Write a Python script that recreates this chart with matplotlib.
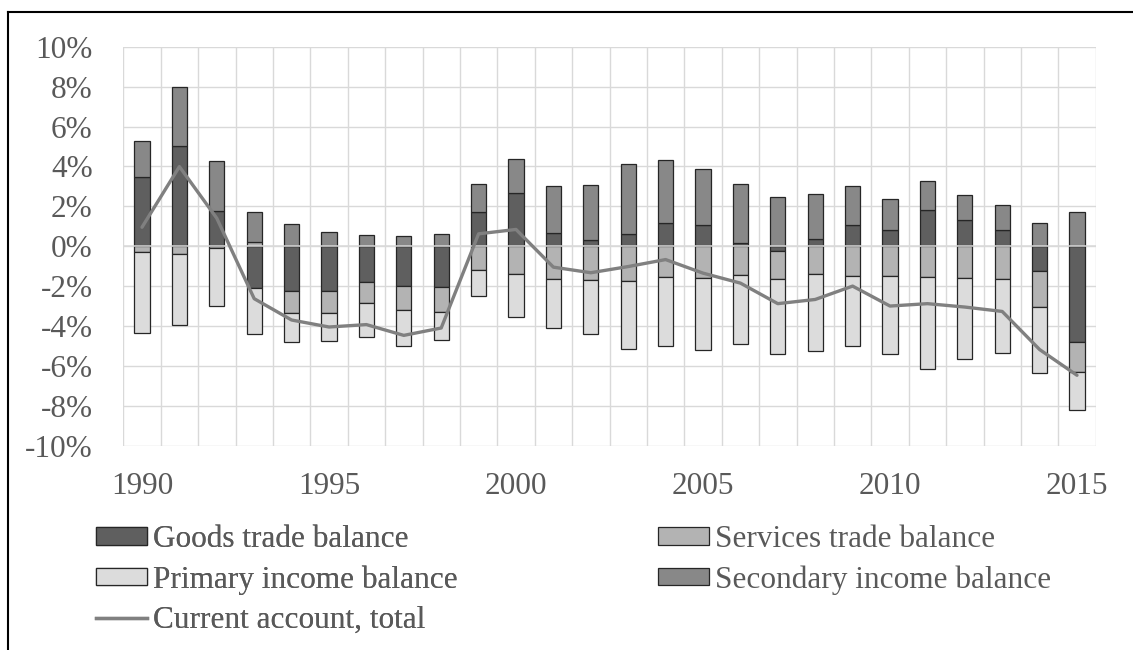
import numpy as np
import matplotlib
matplotlib.use("Agg")
import matplotlib.pyplot as plt
from matplotlib.patches import Patch
from matplotlib.lines import Line2D

# Current account components, % of GDP
years = list(range(1990, 2016))
goods = [3.45, 5.04, 1.75, -2.10, -2.25, -2.27, -1.80, -2.02, -2.05, 1.72,
         2.67, 0.64, 0.33, 0.62, 1.15, 1.07, 0.18, -0.25, 0.35, 1.08,
         0.80, 1.82, 1.32, 0.82, -1.25, -4.78]
services = [-0.27, -0.38, -0.08, 0.20, -1.08, -1.08, -1.03, -1.20, -1.25, -1.18,
            -1.40, -1.62, -1.70, -1.72, -1.55, -1.58, -1.42, -1.38, -1.37, -1.47,
            -1.50, -1.55, -1.58, -1.63, -1.82, -1.55]
primary = [-4.08, -3.59, -2.92, -2.28, -1.49, -1.42, -1.73, -1.80, -1.42, -1.30,
           -2.15, -2.48, -2.68, -3.41, -3.45, -3.60, -3.46, -3.75, -3.90, -3.55,
           -3.88, -4.63, -4.05, -3.72, -3.28, -1.89]
secondary = [1.84, 2.95, 2.53, 1.49, 1.09, 0.72, 0.58, 0.52, 0.62, 1.40,
             1.70, 2.39, 2.74, 3.50, 3.17, 2.80, 2.94, 2.48, 2.27, 1.94,
             1.55, 1.43, 1.25, 1.23, 1.17, 1.73]
total = [0.95, 3.99, 1.40, -2.63, -3.70, -4.05, -3.93, -4.47, -4.10, 0.62,
         0.84, -1.05, -1.33, -1.02, -0.67, -1.35, -1.85, -2.88, -2.67, -2.00,
         -3.00, -2.88, -3.05, -3.27, -5.18, -6.47]

series_names = ["Goods trade balance", "Services trade balance",
                "Primary income balance", "Secondary income balance"]
series_colors = ["#5f5f5f", "#b3b3b3", "#dcdcdc", "#888888"]
line_name = "Current account, total"
line_color = "#808080"
text_color = "#595959"
grid_color = "#d9d9d9"

plt.rcParams["font.family"] = ["Liberation Serif", "DejaVu Serif"]
FS = 22.5

fig = plt.figure(figsize=(11.33, 6.5), dpi=100)
ax = fig.add_axes([123.3 / 1133, 1 - 445.7 / 650, (1095.7 - 123.3) / 1133, (445.7 - 46.7) / 650])

x = np.arange(len(years))
pos_base = np.zeros(len(years))
neg_base = np.zeros(len(years))
bar_w = 0.41
handles = {}
for name, vals, col in zip(series_names, [goods, services, primary, secondary], series_colors):
    v = np.asarray(vals, dtype=float)
    base = np.where(v >= 0, pos_base, neg_base)
    ax.bar(x, v, bottom=base, width=bar_w, color=col, edgecolor="#262626",
           linewidth=0.9, zorder=3)
    pos_base = pos_base + np.where(v >= 0, v, 0)
    neg_base = neg_base + np.where(v < 0, v, 0)
    handles[name] = Patch(facecolor=col, edgecolor="#262626", linewidth=0.9)

ax.axhline(0, color=grid_color, lw=1.1, zorder=4)
ax.plot(x, total, color=line_color, lw=2.4, zorder=5, solid_capstyle="round")
handles[line_name] = Line2D([0], [0], color=line_color, lw=2.4)

ax.set_xlim(-0.5, len(years) - 0.5)
ax.set_ylim(-10, 10)
ax.set_yticks(np.arange(-10, 11, 2))
ax.set_yticklabels([f"{t}%" for t in range(-10, 11, 2)])
ax.set_xticks(x[::5])
ax.set_xticklabels([str(y) for y in years[::5]])
ax.set_xticks(np.arange(-0.5, len(years), 1.0), minor=True)
ax.grid(True, axis="y", which="major", color=grid_color, lw=1.0, zorder=0)
ax.grid(True, axis="x", which="minor", color=grid_color, lw=1.0, zorder=0)
ax.grid(False, axis="x", which="major")
ax.tick_params(axis="both", which="both", length=0, labelsize=FS, colors=text_color)
ax.tick_params(axis="y", pad=22)
ax.tick_params(axis="x", pad=19)
for s in ax.spines.values():
    s.set_visible(False)

leg_kw = dict(frameon=False, fontsize=FS, labelcolor=text_color, handlelength=1.63,
              handleheight=0.48, handletextpad=0.2, labelspacing=0.36, borderpad=0,
              borderaxespad=0, loc="upper left")
col1 = ["Goods trade balance", "Primary income balance", line_name]
col2 = ["Services trade balance", "Secondary income balance"]
leg1 = fig.legend([handles[n] for n in col1], col1,
                  bbox_to_anchor=(96 / 1133, 1 - 525 / 650), **leg_kw)
fig.add_artist(leg1)
fig.legend([handles[n] for n in col2], col2,
           bbox_to_anchor=(658 / 1133, 1 - 525 / 650), **leg_kw)

# outer frame
fig.add_artist(Line2D([7.5 / 1133, 1], [1 - 11.5 / 650, 1 - 11.5 / 650],
                      transform=fig.transFigure, color="black", lw=1.5))
fig.add_artist(Line2D([7.5 / 1133, 7.5 / 1133], [0, 1 - 11.5 / 650],
                      transform=fig.transFigure, color="black", lw=1.5))

fig.savefig("out.png", dpi=100)
